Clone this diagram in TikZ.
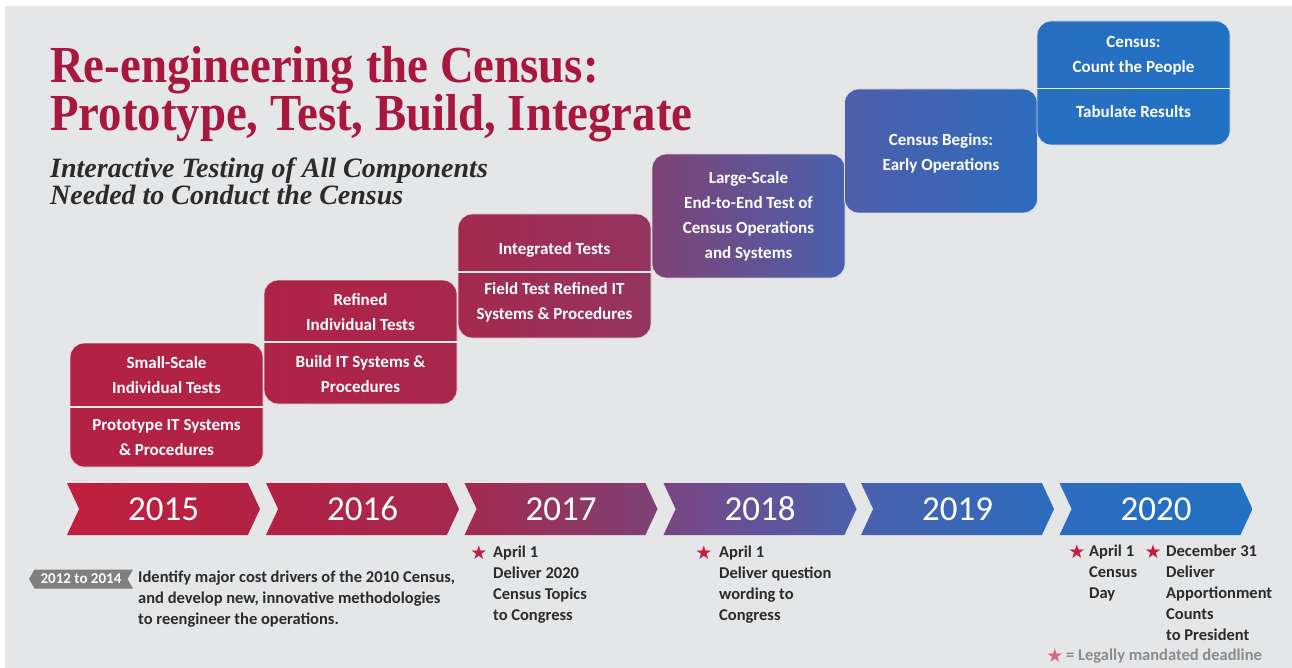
\documentclass[tikz,border=0pt]{standalone}
\usepackage{fontspec}
\setmainfont{Carlito}
\newfontfamily\titlefont{Liberation Serif}[FakeStretch=0.9]
\newfontfamily\subfont{Liberation Serif}
\newfontfamily\symfont{DejaVu Sans}
\usetikzlibrary{shapes.symbols}

\definecolor{bggray}{HTML}{E5E6E8}
\definecolor{titlered}{HTML}{A8173C}
\definecolor{textdark}{HTML}{2B2B2B}
\definecolor{taggray}{HTML}{7F7F7F}
\definecolor{starred}{HTML}{C41E3F}
\definecolor{legendgray}{HTML}{8C8C8C}
\definecolor{legendstar}{HTML}{D8687F}
% Verlauf rot -> blau
\definecolor{rotA}{HTML}{C11F3E}
\definecolor{rotB}{HTML}{B22244}
\definecolor{rotC}{HTML}{A5294E}
\definecolor{lilaA}{HTML}{7E4276}
\definecolor{lilaB}{HTML}{7A4584}
\definecolor{blauA}{HTML}{4A61AE}
\definecolor{blauB}{HTML}{2D6CBE}
\definecolor{blauC}{HTML}{2271C3}

\tikzset{
  stufe/.style={rounded corners=14pt, minimum width=193pt, minimum height=124pt,
    inner sep=0pt, draw=white!75!gray, line width=0.8pt},
  trenn/.style={white!85!gray, line width=1.8pt},
  boxtext/.style={text=white, font=\bfseries\fontsize{17}{25}\selectfont, align=center},
  jahr/.style={signal, signal to=east, signal from=west, signal pointer angle=130,
    minimum width=193pt, minimum height=52pt, inner sep=0pt, text=white,
    font=\fontsize{35}{35}\selectfont},
  notiz/.style={text=textdark, font=\bfseries\fontsize{16.5}{21}\selectfont,
    align=left, anchor=north west, inner sep=0pt},
  stern/.style={text=starred, font=\symfont\fontsize{19}{19}\selectfont, inner sep=0pt},
  titelzeile/.style={anchor=base west, inner sep=0pt, text=titlered,
    font=\titlefont\bfseries\fontsize{52}{52}\selectfont},
  unterzeile/.style={anchor=base west, inner sep=0pt, text=textdark,
    font=\subfont\bfseries\itshape\fontsize{28}{28}\selectfont},
}

\begin{document}
\begin{tikzpicture}[x=1pt, y=-1pt]
\useasboundingbox (0,0) rectangle (1292,668);
\fill[white] (0,0) rectangle (1292,668);
\fill[bggray] (5,6) rectangle (1292,668);

% Titel
\node[titelzeile] (titel1) at (50,83) {Re-engineering the Census:};
\node[titelzeile] (titel2) at (50,131) {Prototype, Test, Build, Integrate};
\node[unterzeile] (unter1) at (50,178) {Interactive Testing of All Components};
\node[unterzeile] (unter2) at (50,205) {Needed to Conduct the Census};

% Stufen
\node[stufe, left color=rotB!95!rotA, right color=rotB] (b1) at (166.5,405) {};
\node[stufe, left color=rotB!80!rotC, right color=rotC!80!rotB] (b2) at (360.5,342) {};
\node[stufe, left color=rotC, right color=rotC!55!lilaA] (b3) at (554.5,276) {};
\node[stufe, left color=lilaA, right color=blauA] (b4) at (748.5,216) {};
\node[stufe, left color=blauA!90!lilaB, right color=blauB] (b5) at (941,151) {};
\node[stufe, left color=blauB!60!blauC, right color=blauC] (b6) at (1133.5,83) {};

\draw[trenn] ([yshift=-64pt]b1.north west) -- ([yshift=-64pt]b1.north east);
\draw[trenn] ([yshift=-62pt]b2.north west) -- ([yshift=-62pt]b2.north east);
\draw[trenn] ([yshift=-58pt]b3.north west) -- ([yshift=-58pt]b3.north east);
\draw[trenn] ([yshift=-68pt]b6.north west) -- ([yshift=-68pt]b6.north east);

\node[boxtext] (b1oben) at ([yshift=-32.5pt]b1.north) {Small-Scale\\Individual Tests};
\node[boxtext] (b1unten) at ([yshift=-94.5pt]b1.north) {Prototype IT Systems\\\& Procedures};
\node[boxtext] (b2oben) at ([yshift=-32.5pt]b2.north) {Refined\\Individual Tests};
\node[boxtext] (b2unten) at ([yshift=-94pt]b2.north) {Build IT Systems \&\\Procedures};
\node[boxtext] (b3oben) at ([yshift=-36pt]b3.north) {Integrated Tests};
\node[boxtext] (b3unten) at ([yshift=-89pt]b3.north) {Field Test Refined IT\\Systems \& Procedures};
\node[boxtext] (b4text) at (b4.center) {Large-Scale\\End-to-End Test of\\Census Operations\\and Systems};
\node[boxtext] (b5text) at ([yshift=-2pt]b5.center) {Census Begins:\\Early Operations};
\node[boxtext] (b6oben) at ([yshift=-35pt]b6.north) {Census:\\Count the People};
\node[boxtext] (b6unten) at ([yshift=-91pt]b6.north) {Tabulate Results};

% Jahre
\node[jahr, left color=rotA, right color=rotB] (j2015) at (163.5,509) {2015};
\node[jahr, left color=rotB, right color=rotC] (j2016) at (362.5,509) {2016};
\node[jahr, left color=rotC, right color=lilaA] (j2017) at (561,509) {2017};
\node[jahr, left color=lilaB, right color=blauA] (j2018) at (760,509) {2018};
\node[jahr, left color=blauA, right color=blauB] (j2019) at (957.5,509) {2019};
\node[jahr, left color=blauB, right color=blauC] (j2020) at (1156,509) {2020};

% Vorlauf
\node[signal, signal to=west, signal from=east, signal pointer angle=120, fill=taggray,
  minimum width=104pt, minimum height=19pt, inner sep=0pt, text=white,
  font=\bfseries\fontsize{15}{15}\selectfont] (vorlauf) at (81,579) {2012 to 2014};
\node[notiz] (vorlauftext) at (138,571) {Identify major cost drivers of the 2010 Census,\\and develop new, innovative methodologies\\to reengineer the operations.};

% Termine
\node[stern] (s2017) at (479,553) {★};
\node[notiz] (n2017) at (493,546) {April 1\\Deliver 2020\\Census Topics\\to Congress};
\node[stern] (s2018) at (704,553) {★};
\node[notiz] (n2018) at (719,546) {April 1\\Deliver question\\wording to\\Congress};
\node[stern] (s2020a) at (1077,552) {★};
\node[notiz] (n2020a) at (1089,545) {April 1\\Census\\Day};
\node[stern] (s2020b) at (1153,552) {★};
\node[notiz] (n2020b) at (1166,545) {December 31\\Deliver\\Apportionment\\Counts\\to President};

% Legende
\node[stern, text=legendstar] (slegende) at (1055,656) {★};
\node[anchor=west, inner sep=0pt, text=legendgray, font=\bfseries\fontsize{16.5}{16.5}\selectfont]
  (legende) at (1066,656) {= Legally mandated deadline};
\end{tikzpicture}
\end{document}
